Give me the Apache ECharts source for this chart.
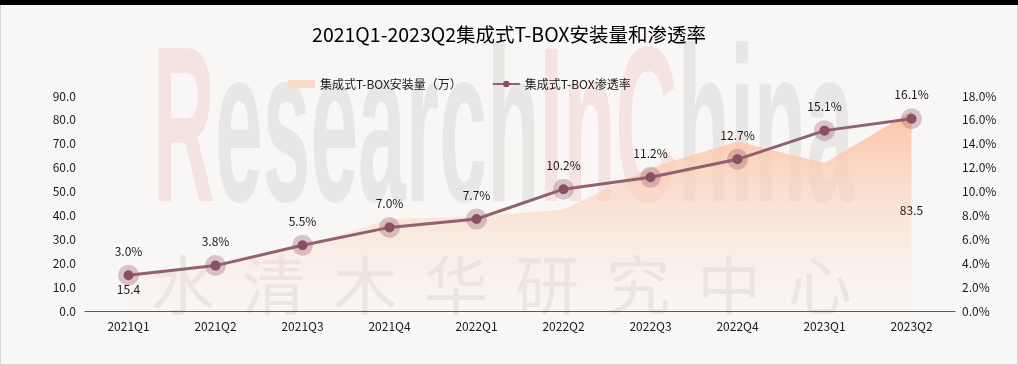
<!DOCTYPE html>
<html>
<head>
<meta charset="utf-8">
<script src="https://cdn.jsdelivr.net/npm/echarts/dist/echarts.min.js"></script>
<style>
html,body{margin:0;padding:0;background:#f8f7f5;}
#c{width:1018px;height:365px;box-sizing:border-box;}
</style>
</head>
<body>
<div id="c"></div>
<script>
const titleText = '2021Q1-2023Q2集成式T-BOX安装量和渗透率';
const categories = ['2021Q1','2021Q2','2021Q3','2021Q4','2022Q1','2022Q2','2022Q3','2022Q4','2023Q1','2023Q2'];
const installName = '集成式T-BOX安装量（万）';
const installVolume = [15.4, 19.0, 27.0, 38.5, 39.5, 42.5, 60.0, 71.0, 62.0, 83.5];
const rateName = '集成式T-BOX渗透率';
const penetration = [3.0, 3.8, 5.5, 7.0, 7.7, 10.2, 11.2, 12.7, 15.1, 16.1];
const leftAxis = {min: 0, max: 90, interval: 10};
const rightAxis = {min: 0, max: 18, interval: 2};
const wmLatin = 'ResearchInChina';
const wmChinese = ['水','清','木','华','研','究','中','心'];

const FONT = '"Noto Sans CJK SC", "Noto Sans", sans-serif';
const chart = echarts.init(document.getElementById('c'), null, {renderer: 'canvas'});

const lastIdx = installVolume.length - 1;
const areaData = installVolume.map((v, i) => {
  if (i === 0) return {value: v, label: {show: true, position: 'bottom', distance: 9}};
  if (i === lastIdx) return {value: v, label: {show: true, position: 'bottom', distance: 92}};
  return {value: v, label: {show: false}};
});

const graphics = [
  {type: 'rect', z: -10, shape: {x: 0, y: 0, width: 1018, height: 365}, style: {fill: '#f8f7f5', stroke: '#d4d4d4', lineWidth: 2}},
  {type: 'rect', z: -9, shape: {x: 0, y: 0, width: 1018, height: 5}, style: {fill: '#000'}},
  {type: 'text', z: -8, x: 153, y: 140, scaleX: 0.39, scaleY: 1,
    style: {
      text: '{r|' + wmLatin.slice(0,1) + '}{g|' + wmLatin.slice(1,8) + '}{r|' + wmLatin.slice(8,11) + '}{g|' + wmLatin.slice(11) + '}',
      verticalAlign: 'middle', align: 'left',
      rich: {
        r: {fill: '#f5e3e1', fontSize: 220, fontWeight: 'bold', fontFamily: '"Liberation Sans", Arial, sans-serif'},
        g: {fill: '#e9e7e5', fontSize: 220, fontWeight: 'bold', fontFamily: '"Liberation Sans", Arial, sans-serif'}
      }
    }
  }
];
wmChinese.forEach((ch, i) => {
  graphics.push({type: 'text', z: -8, x: 183 + i * 91, y: 285,
    style: {text: ch, fill: '#e8e6e4', fontSize: 64, fontFamily: FONT, align: 'center', verticalAlign: 'middle'}});
});

const option = {
  backgroundColor: '#f8f7f5',
  animation: false,
  title: {
    text: titleText, left: 'center', top: 20,
    textStyle: {fontSize: 19.5, fontWeight: 'normal', color: '#000', fontFamily: FONT}
  },
  graphic: graphics,
  legend: {
    top: 73, left: 283, itemWidth: 27, itemHeight: 8, itemGap: 30,
    textStyle: {fontSize: 12, color: '#1a1a1a', fontFamily: FONT},
    data: [
      {name: installName, icon: 'rect', itemStyle: {color: '#fcd9c6'}},
      {name: rateName}
    ]
  },
  grid: {left: 85, right: 63, top: 96, bottom: 54},
  xAxis: {
    type: 'category', data: categories, boundaryGap: true,
    axisLine: {lineStyle: {color: '#595959', width: 1}},
    axisTick: {show: false},
    axisLabel: {fontSize: 12, color: '#1a1a1a', margin: 9, fontFamily: FONT}
  },
  yAxis: [
    {type: 'value', min: leftAxis.min, max: leftAxis.max, interval: leftAxis.interval,
      splitLine: {show: false}, axisLine: {show: false}, axisTick: {show: false},
      axisLabel: {fontSize: 12, color: '#1a1a1a', margin: 9, fontFamily: FONT, formatter: v => v.toFixed(1)}},
    {type: 'value', min: rightAxis.min, max: rightAxis.max, interval: rightAxis.interval,
      splitLine: {show: false}, axisLine: {show: false}, axisTick: {show: false},
      axisLabel: {fontSize: 12, color: '#1a1a1a', margin: 7, fontFamily: FONT, formatter: v => v.toFixed(1) + '%'}}
  ],
  series: [
    {
      name: installName, type: 'line', yAxisIndex: 0, data: areaData, z: 1,
      symbol: 'circle', symbolSize: 1, showSymbol: true,
      lineStyle: {width: 0, color: 'rgba(0,0,0,0)'}, itemStyle: {color: 'rgba(0,0,0,0)'},
      areaStyle: {
        color: new echarts.graphic.LinearGradient(0, 0, 0, 1, [
          {offset: 0, color: 'rgba(252,192,160,0.95)'},
          {offset: 0.6, color: 'rgba(252,215,195,0.45)'},
          {offset: 1, color: 'rgba(252,230,220,0.08)'}
        ]), opacity: 1
      },
      label: {color: '#1a1a1a', fontSize: 12, fontFamily: FONT, formatter: p => p.value.toFixed(1)}
    },
    {
      type: 'scatter', yAxisIndex: 1, data: penetration, z: 3, silent: true,
      symbolSize: 21, itemStyle: {color: 'rgba(150,92,112,0.42)'}
    },
    {
      name: rateName, type: 'line', yAxisIndex: 1, data: penetration, z: 4,
      symbol: 'circle', symbolSize: 10,
      lineStyle: {width: 3, color: '#93606f'},
      itemStyle: {color: '#8a4f63'},
      label: {show: true, position: 'top', distance: 13, fontSize: 12, color: '#1a1a1a', fontFamily: FONT,
        formatter: p => p.value.toFixed(1) + '%'}
    }
  ]
};
chart.setOption(option);
</script>
</body>
</html>
